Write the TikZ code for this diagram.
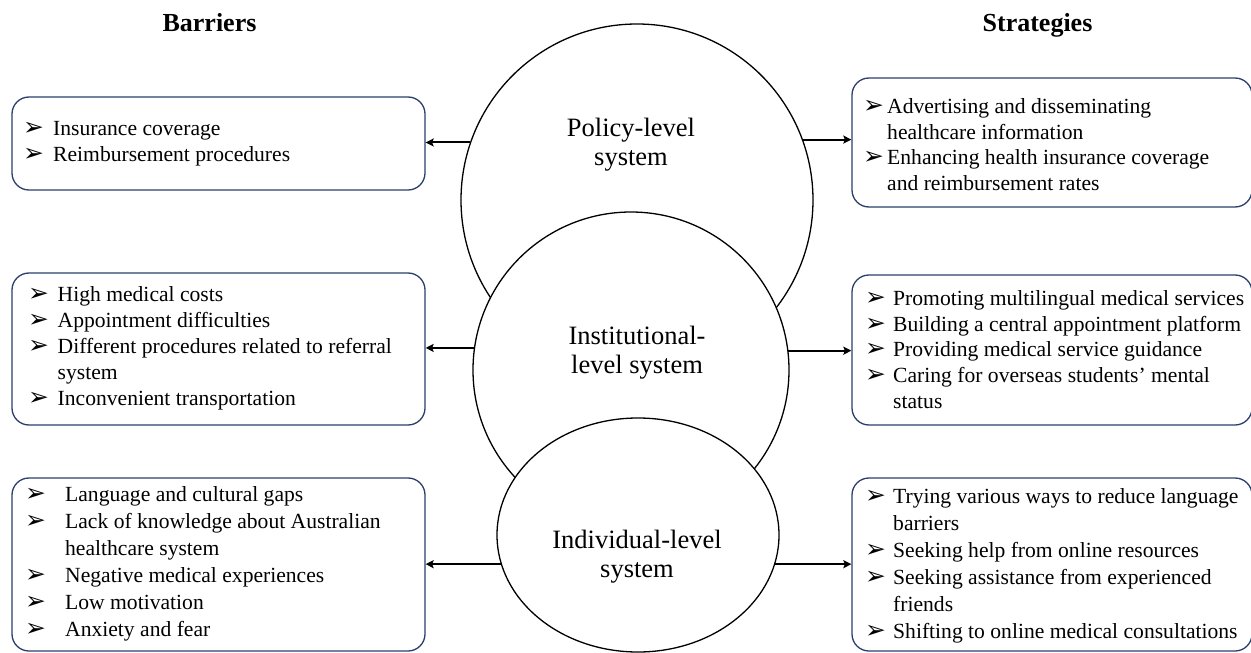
\documentclass[tikz,border=0pt]{standalone}
\usepackage{fontspec}
\usepackage{graphicx}
\setmainfont{Liberation Serif}
\newfontfamily\bulletfont{DejaVu Sans}
\usetikzlibrary{arrows.meta,shapes.geometric}
\definecolor{boxblue}{HTML}{2B3F6B}
% arrowhead bullet followed by a fixed indent; \cont indents a wrapped line
\newcommand{\bul}[1]{\makebox[#1][l]{\scalebox{1.15}{\bulletfont ➢}}}
\newcommand{\cont}[1]{\hspace*{#1}}
\newcommand{\lead}{\rule{0pt}{20bp}}
\tikzset{
  cnode/.style={draw, line width=1.3bp, fill=white, inner sep=0},
  sbox/.style={draw=boxblue, line width=1.3bp, rounded corners=17bp, inner sep=0},
  btext/.style={anchor=north west, inner sep=0, align=left,
                font=\fontsize{21.6bp}{#1}\selectfont},
  btext/.default=26.5bp,
  heading/.style={anchor=base, inner sep=0, font=\bfseries\fontsize{26bp}{30bp}\selectfont},
  lvl/.style={align=center, inner sep=0, font=\fontsize{26.5bp}{29bp}\selectfont},
  arr/.style={line width=2bp, -{Stealth[length=8bp,width=8bp,inset=1.5bp]}}
}
\begin{document}
\begin{tikzpicture}[x=1bp,y=-1bp]
\useasboundingbox (0,0) rectangle (1251,653);

% headings
\node[heading] (hbar) at (209.5,31.7) {Barriers};
\node[heading] (hstr) at (1037.5,31.7) {Strategies};

% the three overlapping levels, back to front
\node[cnode, circle, minimum size=352bp] (policy) at (637,200) {};
\node[cnode, circle, minimum size=316bp] (inst) at (631,370) {};
\node[cnode, ellipse, minimum width=282bp, minimum height=234bp] (indiv) at (638,535) {};

\node[lvl] (tpolicy) at (631,145) {Policy-level\\system};
\node[lvl] (tinst) at (637,353) {Institutional-\\level system};
\node[lvl] (tindiv) at (637,557) {Individual-level\\system};

% barrier boxes
\node[sbox, minimum width=413bp, minimum height=93bp]  (bL1) at (218.5,143.5) {};
\node[sbox, minimum width=413bp, minimum height=152bp] (bL2) at (218.5,349) {};
\node[sbox, minimum width=413bp, minimum height=173bp] (bL3) at (218.5,564.5) {};
% strategy boxes
\node[sbox, minimum width=400bp, minimum height=129bp] (bR1) at (1052,142.5) {};
\node[sbox, minimum width=400bp, minimum height=150bp] (bR2) at (1052,350) {};
\node[sbox, minimum width=400bp, minimum height=173bp] (bR3) at (1052,564.5) {};

% box contents
\node[btext=26.7bp] (tL1) at (23,115) {\lead\bul{30bp}Insurance coverage\\
  \bul{30bp}Reimbursement procedures};
\node[btext=25.8bp] (tL2) at (28,281.7) {\lead\bul{29.5bp}High medical costs\\
  \bul{29.5bp}Appointment difficulties\\
  \bul{29.5bp}Different procedures related to referral\\
  \cont{29.5bp}system\\
  \bul{29.5bp}Inconvenient transportation};
\node[btext=27bp] (tL3) at (25,481.7) {\lead\bul{40bp}Language and cultural gaps\\
  \bul{40bp}Lack of knowledge about Australian\\
  \cont{40bp}healthcare system\\
  \bul{40bp}Negative medical experiences\\
  \bul{40bp}Low motivation\\
  \bul{40bp}Anxiety and fear};

\node[btext=25.6bp] (tR1) at (863,93.3) {\lead\bul{24bp}Advertising and disseminating\\
  \cont{24bp}healthcare information\\
  \bul{24bp}Enhancing health insurance coverage\\
  \cont{24bp}and reimbursement rates};
\node[btext=25.8bp] (tR2) at (865,285) {\lead\bul{28bp}Promoting multilingual medical services\\
  \bul{28bp}Building a central appointment platform\\
  \bul{28bp}Providing medical service guidance\\
  \bul{28bp}Caring for overseas students’ mental\\
  \cont{28bp}status};
\node[btext=27bp] (tR3) at (865,483.3) {\lead\bul{28bp}Trying various ways to reduce language\\
  \cont{28bp}barriers\\
  \bul{28bp}Seeking help from online resources\\
  \bul{28bp}Seeking assistance from experienced\\
  \cont{28bp}friends\\
  \bul{28bp}Shifting to online medical consultations};

% connectors from each level to its barriers and strategies
\draw[arr] (policy.161.5) -- (policy.161.5 -| bL1.east);
\draw[arr] (policy.20.3) -- (policy.20.3 -| bR1.west);
\draw[arr] (inst.172.4) -- (inst.172.4 -| bL2.east);
\draw[arr] (inst.7.3) -- (inst.7.3 -| bR2.west);
\draw[arr] (indiv.192.8) -- (indiv.192.8 -| bL3.east);
\draw[arr] (indiv.-12.8) -- (indiv.-12.8 -| bR3.west);
\end{tikzpicture}
\end{document}
